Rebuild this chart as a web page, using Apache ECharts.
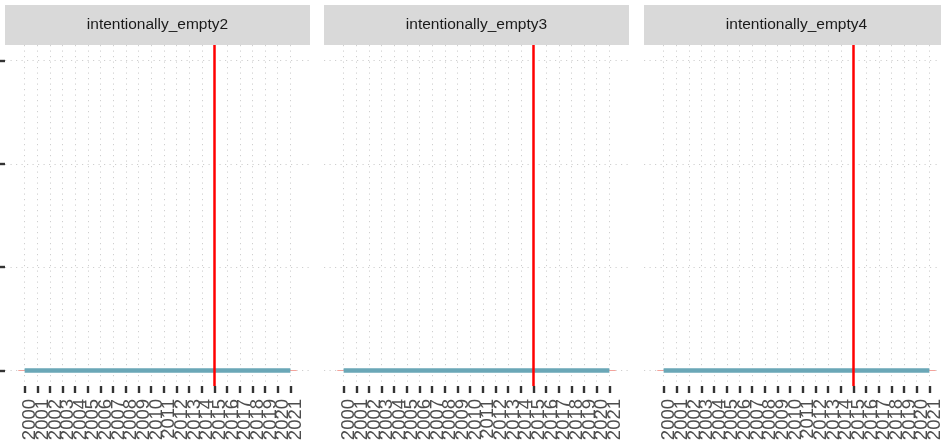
<!DOCTYPE html>
<html>
<head>
<meta charset="utf-8">
<script src="https://cdn.jsdelivr.net/npm/echarts@6/dist/echarts.min.js"></script>
<style>
html, body { margin: 0; padding: 0; background: #fff; }
#chart { width: 941px; height: 443px; }
</style>
</head>
<body>
<div id="chart"></div>
<script>
var panelNames = ['intentionally_empty2', 'intentionally_empty3', 'intentionally_empty4'];
var years = [2000, 2001, 2002, 2003, 2004, 2005, 2006, 2007, 2008, 2009, 2010,
             2011, 2012, 2013, 2014, 2015, 2016, 2017, 2018, 2019, 2020, 2021];
var values2 = [0, 0, 0, 0, 0, 0, 0, 0, 0, 0, 0, 0, 0, 0, 0, 0, 0, 0, 0, 0, 0, 0];
var values3 = [0, 0, 0, 0, 0, 0, 0, 0, 0, 0, 0, 0, 0, 0, 0, 0, 0, 0, 0, 0, 0, 0];
var values4 = [0, 0, 0, 0, 0, 0, 0, 0, 0, 0, 0, 0, 0, 0, 0, 0, 0, 0, 0, 0, 0, 0];
var baseSpan = [1999.5, 2021.5];
var yTicks = [0, 1, 2, 3];
var markYear = 2015;

var panelValues = [values2, values3, values4];
var chart = echarts.init(document.getElementById('chart'));

var panelLeft = [5, 324, 644],
    panelWidth = 305,
    stripTop = 5,
    stripH = 40,
    plotTop = 45,
    plotH = 341;

var dotted = { color: '#cfcfcf', width: 1, type: [1.2, 4.3] };

// labels split in two sets so that neighbouring labels are never auto-hidden
var evenYears = years.filter(function (y, k) { return k % 2 === 0; });
var oddYears = years.filter(function (y, k) { return k % 2 === 1; });

var grids = [], xAxes = [], yAxes = [], series = [], graphics = [];

function labelAxis(gridIndex, vals) {
    return {
        gridIndex: gridIndex,
        type: 'value',
        position: 'bottom',
        min: 1998.45,
        max: 2022.55,
        axisLine: { show: false, onZero: false },
        axisTick: { show: false },
        splitLine: { show: false },
        axisLabel: {
            customValues: vals,
            showMinLabel: true,
            showMaxLabel: true,
            hideOverlap: false,
            rotate: 90,
            margin: 13,
            fontSize: 18.5,
            lineHeight: 11,
            verticalAlign: 'top',
            fontFamily: 'Liberation Sans, Arial, sans-serif',
            color: '#4d4d4d',
            formatter: function (v) { return String(v); }
        }
    };
}

for (var i = 0; i < 3; i++) {
    grids.push({
        left: panelLeft[i], top: plotTop, width: panelWidth, height: plotH,
        containLabel: false,
        outerBoundsMode: 'none'
    });

    var mainX = xAxes.length;
    xAxes.push({
        gridIndex: i,
        type: 'value',
        position: 'bottom',
        min: 1998.45,
        max: 2022.55,
        axisLine: { show: false, onZero: false },
        axisTick: { show: true, customValues: years, length: 7, lineStyle: { color: '#333', width: 2.4 } },
        axisLabel: { show: false, customValues: years },
        splitLine: { show: true, lineStyle: dotted }
    });
    xAxes.push(labelAxis(i, evenYears));
    xAxes.push(labelAxis(i, oddYears));

    yAxes.push({
        gridIndex: i,
        type: 'value',
        min: -0.15,
        max: 3.15,
        axisLine: { show: false, onZero: false },
        axisTick: { show: i === 0, customValues: yTicks, length: 5, lineStyle: { color: '#333', width: 2.4 } },
        axisLabel: { show: false, customValues: yTicks },
        splitLine: { show: true, lineStyle: dotted }
    });

    // thin red base under the teal line
    series.push({
        type: 'line',
        xAxisIndex: mainX,
        yAxisIndex: i,
        symbol: 'none',
        silent: true,
        z: 2,
        lineStyle: { color: '#f3a39c', width: 1 },
        data: [[baseSpan[0], 0], [baseSpan[1], 0]]
    });

    var pts = [];
    for (var j = 0; j < years.length; j++) {
        pts.push([years[j], panelValues[i][j]]);
    }
    series.push({
        type: 'line',
        xAxisIndex: mainX,
        yAxisIndex: i,
        symbol: 'none',
        silent: true,
        z: 3,
        lineStyle: { color: '#6aa7b7', width: 4.5 },
        data: pts
    });

    series.push({
        type: 'line',
        xAxisIndex: mainX,
        yAxisIndex: i,
        symbol: 'none',
        silent: true,
        z: 5,
        lineStyle: { width: 0 },
        data: [],
        markLine: {
            silent: true,
            symbol: ['none', 'none'],
            label: { show: false },
            animation: false,
            lineStyle: { color: '#ff0000', width: 2.5, type: 'solid' },
            data: [{ xAxis: markYear }]
        }
    });

    graphics.push({
        type: 'rect',
        left: panelLeft[i],
        top: stripTop,
        shape: { width: panelWidth, height: stripH },
        style: { fill: '#d9d9d9' }
    });
    graphics.push({
        type: 'text',
        x: panelLeft[i] + panelWidth / 2,
        y: stripTop + stripH / 2,
        style: {
            text: panelNames[i],
            fill: '#1a1a1a',
            font: '15.5px "Liberation Sans", Arial, sans-serif',
            textAlign: 'center',
            textVerticalAlign: 'middle'
        }
    });
}

var option = {
    animation: false,
    backgroundColor: '#ffffff',
    grid: grids,
    xAxis: xAxes,
    yAxis: yAxes,
    graphic: graphics,
    series: series
};
chart.setOption(option);
</script>
</body>
</html>
